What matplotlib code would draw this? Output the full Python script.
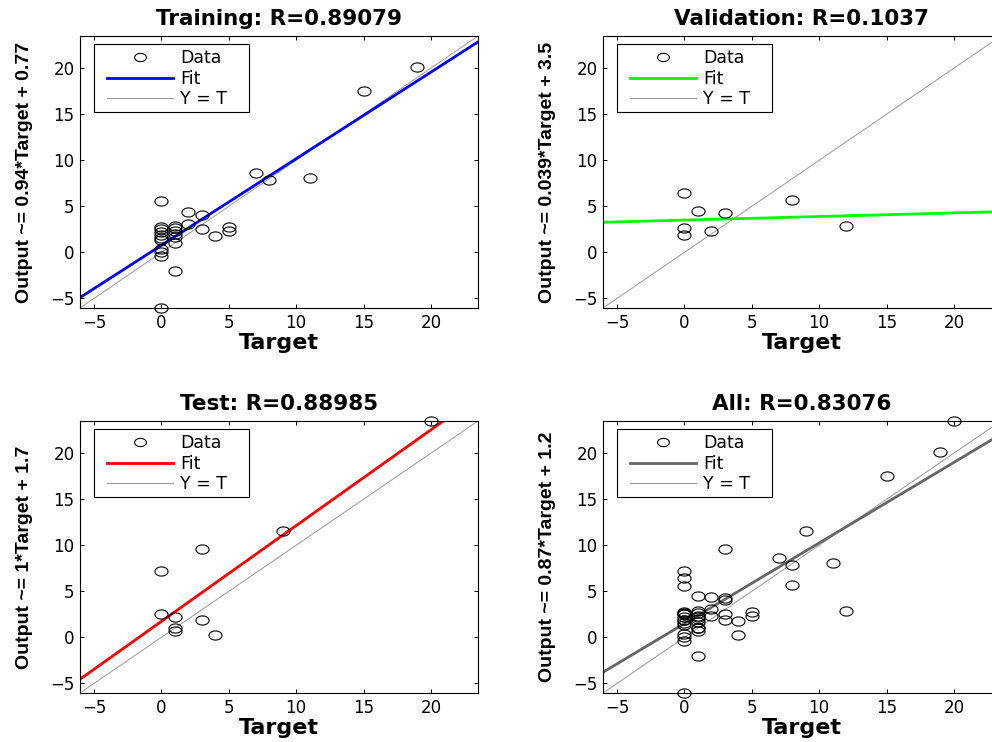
import numpy as np
import matplotlib
matplotlib.use('Agg')
import matplotlib.pyplot as plt
from matplotlib.path import Path
from matplotlib.patches import Rectangle

# DejaVu is wider than Arial, closer to the stretched look of the reference
plt.rcParams['font.family'] = ['DejaVu Sans']

# data (target, output)
train_t = [19, 15, 7, 8, 11, 0, 2, 3, 2, 3, 4, 5, 5,
           1, 1, 1, 1, 1, 1, 1,
           0, 0, 0, 0, 0, 0, 0, 0, 0, 0]
train_y = [20.1, 17.5, 8.6, 7.9, 8.1, 5.6, 4.35, 4.0, 3.1, 2.5, 1.8, 2.8, 2.3,
           2.9, 2.6, 2.3, 2.0, 1.7, 1.0, -2.0,
           2.8, 2.5, 2.2, 1.9, 1.6, 1.3, 0.4, 0.0, -0.4, -6.05]
val_t = [0, 1, 3, 8, 0, 0, 2, 12]
val_y = [6.4, 4.5, 4.3, 5.7, 2.6, 1.9, 2.3, 2.9]
test_t = [20, 9, 3, 0, 0, 1, 1, 1, 3, 4]
test_y = [23.5, 11.6, 9.6, 7.2, 2.5, 2.2, 1.0, 0.7, 1.9, 0.3]

titles = ['Training: R=0.89079', 'Validation: R=0.1037', 'Test: R=0.88985', 'All: R=0.83076']
ylabels = ['Output ~= 0.94*Target + 0.77', 'Output ~= 0.039*Target + 3.5',
           'Output ~= 1*Target + 1.7', 'Output ~= 0.87*Target + 1.2']
fit_slope = [0.94, 0.039, 1.04, 0.875]
fit_icpt = [0.77, 3.5, 1.74, 1.5]
fit_colors = ['#0000ff', '#00ff00', '#ff0000', '#666666']
ticks = [-5, 0, 5, 10, 15, 20]

all_t = train_t + val_t + test_t
all_y = train_y + val_y + test_y
sets = [(train_t, train_y), (val_t, val_y), (test_t, test_y), (all_t, all_y)]
lim = (min(all_t + all_y), max(all_t + all_y))

# slightly flat circle, like the reference markers
th = np.linspace(0, 2 * np.pi, 60)
ellipse = Path(np.column_stack([np.cos(th), 0.7 * np.sin(th)]))

W, H = 992, 742
fig = plt.figure(figsize=(W / 100, H / 100), dpi=100)
# axes boxes in pixels: left, top, width, height
boxes = [(80, 36, 398, 272), (603, 36, 398, 272),
         (80, 421, 398, 272), (603, 421, 398, 272)]

for i, (x0, y0, w, h) in enumerate(boxes):
    ax = fig.add_axes([x0 / W, 1 - (y0 + h) / H, w / W, h / H])
    t, y = sets[i]
    ax.plot(t, y, linestyle='none', marker=ellipse, markersize=9.4,
            mfc='none', mec='k', mew=0.8, clip_on=False, label='Data', zorder=3)
    xs = np.array(lim)
    ax.plot(xs, fit_slope[i] * xs + fit_icpt[i], color=fit_colors[i], lw=2.0, label='Fit', zorder=2)
    ax.plot(xs, xs, color='#999999', lw=0.7, label='Y = T', zorder=1)
    ax.set_xlim(lim)
    ax.set_ylim(lim)
    ax.set_xticks(ticks)
    ax.set_yticks(ticks)
    ax.tick_params(direction='in', top=True, right=True, length=3, width=0.7,
                   labelsize=12, pad=4)
    for s in ax.spines.values():
        s.set_linewidth(0.8)
    ax.set_title(titles[i], fontsize=15.5, fontweight='bold', pad=8)
    # rotated label is not stretched in the reference, Arial metrics fit it
    ax.set_ylabel(ylabels[i], fontsize=14, fontweight='bold', family='Liberation Sans')
    ax.yaxis.set_label_coords(-47 / w, 0.5)
    ax.set_xlabel('Target', fontsize=16, fontweight='bold')
    ax.xaxis.set_label_coords(0.5, -25 / h)

    # legend box drawn separately so the padding can match the reference
    ax.add_patch(Rectangle((14 / w, 1 - 76 / h), 155 / w, 68 / h,
                           transform=ax.transAxes, facecolor='white',
                           edgecolor='k', lw=0.8, zorder=4))
    leg = ax.legend(loc='upper left', bbox_to_anchor=(27 / w, 1 - 13 / h), fontsize=12.5,
                    handlelength=3.8, handletextpad=0.4, labelspacing=0.15,
                    borderpad=0, borderaxespad=0, frameon=False, markerscale=0.9)
    leg.set_zorder(5)

fig.savefig('out.png', dpi=100)
